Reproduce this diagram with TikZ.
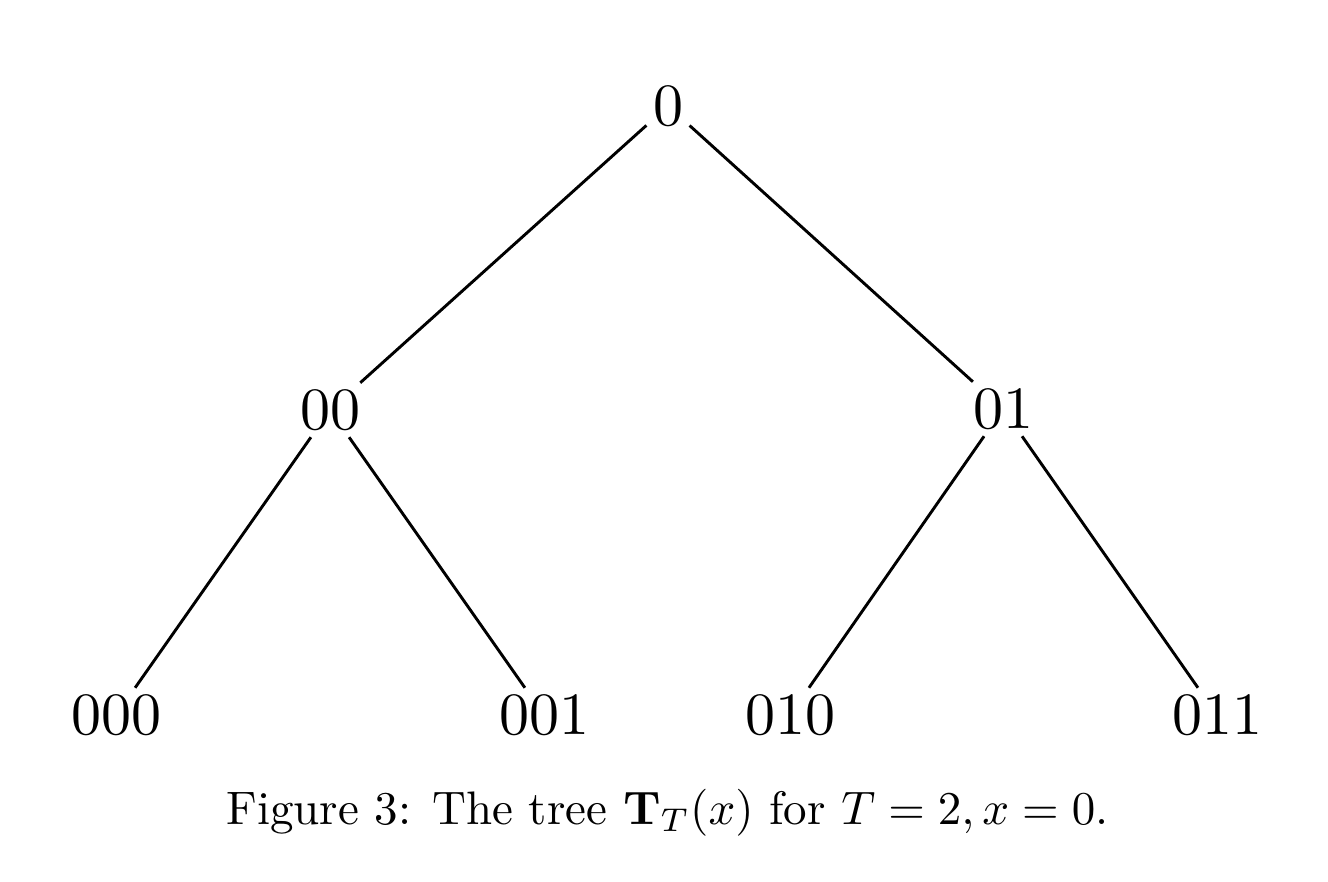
\documentclass[tikz,border=0pt]{standalone}
\begin{document}
\begin{tikzpicture}[x=1pt,y=-1pt,
  lbl/.style={scale=6, inner sep=0.9pt},
  edge/.style={line width=2.9pt}]
\useasboundingbox (0,0) rectangle (1328,882);
\node[lbl] (r) at (668,106) {0};
\node[lbl] (a) at (330,410) {00};
\node[lbl] (b) at (1003,409) {01};
\node[lbl] (aa) at (116,715) {000};
\node[lbl] (ab) at (544,715) {001};
\node[lbl] (ba) at (790,715) {010};
\node[lbl] (bb) at (1217,715) {011};
\draw[edge] (r) -- (a);
\draw[edge] (r) -- (b);
\draw[edge] (a) -- (aa);
\draw[edge] (a) -- (ab);
\draw[edge] (b) -- (ba);
\draw[edge] (b) -- (bb);
\node[anchor=base, scale=4.7] (cap) at (667.5,824) {Figure 3: The tree $\mathbf{T}_T(x)$ for $T=2, x=0$.};
\end{tikzpicture}
\end{document}
